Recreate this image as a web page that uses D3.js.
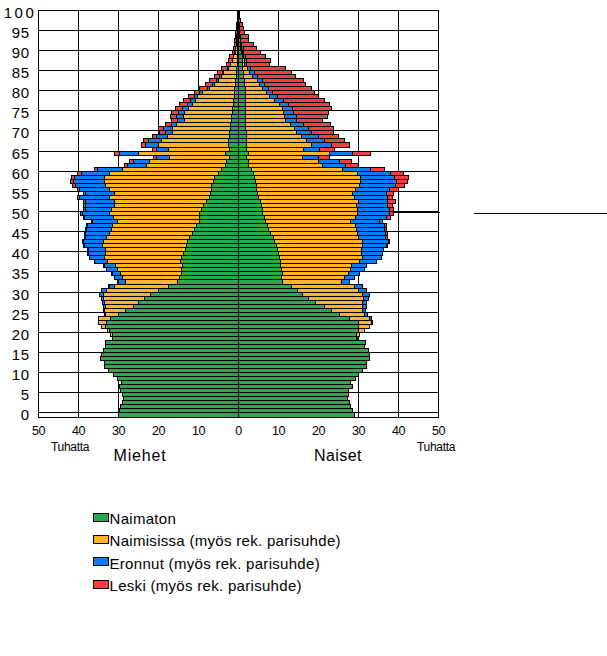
<!DOCTYPE html>
<html>
<head>
<meta charset="utf-8">
<script src="https://cdn.jsdelivr.net/npm/d3@7"></script>
<style>
  body { margin: 0; background: #fff; }
  svg { display: block; font-family: "Liberation Sans", Arial, sans-serif; }
</style>
</head>
<body>
<div id="chart"></div>
<script>
// age groups 0..100, values in thousands
var ages = d3.range(0, 101);

var menSingle = [30.0,29.6,29.4,29.0,28.75,28.8,29.4,29.6,29.2,30.2,
  31.2,32.5,33.3,33.5,34.4,34.2,33.7,33.1,33.1,31.3,
  31.4,32.1,33.1,33.0,32.0,29.8,28.2,26.2,25.0,23.5,
  21.9,19.9,17.5,15.2,14.7,14.2,14.2,14.0,14.4,14.2,
  13.7,13.2,12.9,12.7,12.2,11.4,11.0,10.4,9.6,9.7,
  9.6,9.2,8.6,7.9,7.1,6.9,6.7,6.6,6.2,5.8,
  5.0,4.2,3.2,2.9,2.2,3.1,2.2,2.5,2.4,2.2,
  2.1,1.9,1.8,1.7,1.6,1.5,1.3,1.2,1.1,1.0,
  0.8,0.8,0.7,0.6,0.4,0.3,0.3,0.2,0.2,0.15,
  0.1,0.1,0.1,0.05,0.05,0.05,0.03,0.02,0.02,0.01,0.01];
var menMarried = [0,0,0,0,0,0,0,0,0,0,
  0,0,0,0,0,0,0,0,0,0.1,
  0.4,0.6,1.1,2.0,3.0,3.4,5.1,6.9,8.3,10.1,
  11.8,13.0,13.3,13.0,14.3,15.2,16.0,16.7,18.3,19.3,
  19.5,19.9,20.9,21.0,20.7,20.7,20.7,21.0,20.6,21.5,
  22.6,22.5,22.4,23.1,25.0,24.1,25.4,26.5,27.1,27.5,
  27.2,24.8,19.7,19.2,15.0,21.9,15.3,17.5,16.8,15.5,
  14.2,14.5,13.6,11.8,12.0,11.8,11.0,10.3,9.6,9.2,
  8.1,6.3,5.1,4.4,3.8,3.3,2.2,1.6,1.2,1.0,
  0.65,0.5,0.35,0.3,0.2,0.15,0.1,0.08,0.05,0.03,0.03];
var menDivorced = [0,0,0,0,0,0,0,0,0,0,
  0,0,0,0,0,0,0,0,0,0,
  0,0,0,0,0,0.2,0.45,0.65,0.6,0.6,
  0.85,1.25,1.4,1.8,1.8,2.1,2.6,2.8,3.1,3.6,
  4.3,4.4,4.6,5.0,5.2,6.0,6.2,6.3,6.2,7.1,
  6.8,6.5,7.2,7.2,7.5,7.2,7.6,7.6,7.9,7.5,
  6.9,6.2,4.8,4.1,3.1,4.6,3.0,3.2,3.3,2.7,
  1.9,2.3,1.3,1.7,1.7,1.7,1.7,1.2,1.1,0.8,
  0.7,0.65,0.6,0.4,0.4,0.2,0.2,0.1,0.1,0.1,
  0.1,0.05,0.05,0.05,0.03,0.02,0.02,0.01,0.01,0.01,0.01];
var menWidowed = [0,0,0,0,0,0,0,0,0,0,
  0,0,0,0,0,0,0,0,0,0,
  0,0,0,0,0,0,0,0,0,0,
  0,0,0.1,0.05,0.05,0.05,0.1,0.1,0.1,0.1,
  0.1,0.15,0.2,0.2,0.2,0.2,0.25,0.25,0.3,0.3,
  0.5,0.5,0.5,0.5,0.6,0.5,0.5,0.65,0.65,0.9,
  1.05,0.6,0.75,0.85,0.85,1.2,1.0,1.0,1.1,1.1,
  1.55,1.25,1.4,1.5,1.5,1.7,1.7,1.9,1.95,1.5,
  1.4,2.0,1.8,1.85,1.4,1.25,1.5,1.0,1.0,0.85,
  0.65,0.6,0.5,0.4,0.35,0.3,0.25,0.17,0.12,0.08,0.1];

var womenSingle = [29.0,28.5,28.2,27.9,27.3,27.7,27.7,28.5,28.2,29.4,
  30.0,31.2,32.2,32.2,32.9,32.9,32.7,31.7,31.9,29.6,
  29.6,30.0,30.0,30.0,27.9,25.4,23.3,21.5,19.3,17.7,
  16.2,14.8,13.3,11.0,10.8,11.0,10.8,10.6,10.6,10.4,
  10.2,9.8,9.6,9.0,8.8,8.1,7.7,7.3,6.8,6.7,
  6.2,6.2,5.8,5.7,5.2,4.8,4.6,4.6,4.4,4.2,
  3.9,3.3,2.7,2.5,2.1,2.5,2.1,2.2,2.1,2.1,
  2.1,1.9,1.9,1.9,1.9,1.9,1.9,1.9,1.9,1.9,
  1.8,1.8,1.7,1.7,1.4,1.4,1.2,1.1,1.1,1.0,
  0.85,0.7,0.6,0.5,0.45,0.35,0.3,0.2,0.15,0.1,0.05];
var womenMarried = [0,0,0,0,0,0,0,0,0,0,
  0,0,0,0,0,0,0,0,0,0.25,
  0.8,1.7,2.75,3.3,5.0,6.2,7.9,9.6,11.7,13.7,
  15.0,15.2,15.7,14.8,15.7,16.7,17.3,17.8,19.8,20.7,
  20.7,21.0,21.4,22.0,21.2,21.7,21.8,22.0,21.2,22.7,
  23.7,23.7,23.9,24.3,23.8,23.7,24.8,25.8,26.2,26.5,
  25.9,22.7,18.5,17.5,13.9,20.4,14.2,16.1,15.0,13.7,
  12.5,12.3,11.3,10.0,9.6,9.5,9.3,8.5,7.2,6.0,
  5.2,4.4,3.6,3.1,2.3,1.5,1.2,0.6,0.4,0.4,
  0.25,0.2,0.1,0.1,0.08,0.05,0.03,0.02,0.01,0.01,0];
var womenDivorced = [0,0,0,0,0,0,0,0,0,0,
  0,0,0,0,0,0,0,0,0,0,
  0,0,0.2,0.25,0.4,0.65,0.65,1.0,1.0,1.3,
  1.7,2.0,2.0,2.1,2.5,2.7,3.5,3.6,4.3,4.7,
  5.2,5.6,6.1,6.5,6.9,7.1,7.1,7.2,7.3,7.7,
  7.9,7.9,7.7,7.4,8.3,8.6,8.5,8.9,9.1,8.5,
  8.2,7.2,5.7,5.4,4.0,5.8,4.0,5.0,4.6,4.2,
  3.7,3.5,3.1,2.8,3.1,2.5,2.5,2.3,2.2,1.9,
  1.6,1.5,1.4,1.3,1.1,1.1,0.8,0.5,0.6,0.5,
  0.35,0.4,0.2,0.1,0.1,0.05,0.05,0.03,0.02,0.01,0];
var womenWidowed = [0,0,0,0,0,0,0,0,0,0,
  0,0,0,0,0,0,0,0,0,0,
  0,0,0,0,0,0,0,0,0,0,
  0,0,0,0,0,0,0,0,0,0,
  0,0,0.25,0.25,0.4,0.4,0.4,0.7,0.8,1.0,
  1.1,1.0,1.2,1.9,1.4,1.7,2.3,2.2,2.7,3.3,
  3.3,3.4,3.1,2.9,2.9,4.4,3.7,4.6,5.0,5.2,
  5.6,6.2,6.7,6.5,7.7,8.6,9.6,10.2,10.2,10.2,
  10.6,10.7,10.2,10.2,9.5,9.3,8.7,5.6,6.0,5.0,
  4.2,3.3,2.9,1.9,1.9,1.25,1.05,0.75,0.5,0.3,0.25];

var statusLabels = ["Naimaton", "Naimisissa (myös rek. parisuhde)",
                    "Eronnut (myös rek. parisuhde)", "Leski (myös rek. parisuhde)"];
var statusColors = ["#2aa84e", "#ffb428", "#0a7bf2", "#f04040"];
var xTicks = [-50, -40, -30, -20, -10, 0, 10, 20, 30, 40, 50];
var ageTicks = d3.range(0, 101, 5);

var width = 607, height = 656;
var plot = {left: 38, right: 438, top: 10, bottom: 417};

var svg = d3.select("#chart").append("svg")
    .attr("width", width)
    .attr("height", height);

var x = d3.scaleLinear().domain([-50, 50]).range([plot.left, plot.right]);
// each age gets one band; band a spans y(a+1)..y(a)
var y = d3.scaleLinear().domain([0, 101]).range([plot.bottom, plot.top]);

var men   = [menSingle, menMarried, menDivorced, menWidowed];
var women = [womenSingle, womenMarried, womenDivorced, womenWidowed];

//stack the four statuses outward from the centre line
function segments(series, sign) {
  var out = [];
  ages.forEach(function(a) {
    var cum = 0;
    series.forEach(function(s, k) {
      var v = s[a];
      if (v > 0) out.push({age: a, k: k, x0: sign * cum, x1: sign * (cum + v)});
      cum += v;
    });
  });
  return out;
}

var grid = svg.append("g").attr("shape-rendering", "crispEdges");

grid.selectAll("line.v")
  .data(xTicks)
  .enter().append("line")
    .attr("x1", function(d) { return x(d); })
    .attr("x2", function(d) { return x(d); })
    .attr("y1", plot.top)
    .attr("y2", plot.bottom)
    .attr("stroke", "#000");

grid.selectAll("line.h")
  .data(ageTicks)
  .enter().append("line")
    .attr("x1", plot.left)
    .attr("x2", plot.right)
    .attr("y1", function(d) { return y(d + 1); })
    .attr("y2", function(d) { return y(d + 1); })
    .attr("stroke", "#000");

var bars = svg.append("g").attr("shape-rendering", "crispEdges");

bars.selectAll("rect")
  .data(segments(men, -1).concat(segments(women, 1)))
  .enter().append("rect")
    .attr("x", function(d) { return x(Math.min(d.x0, d.x1)); })
    .attr("width", function(d) { return Math.abs(x(d.x1) - x(d.x0)); })
    .attr("y", function(d) { return y(d.age + 1); })
    .attr("height", function(d) { return y(d.age) - y(d.age + 1); })
    .attr("fill", function(d) { return statusColors[d.k]; })
    .attr("stroke", "#000")
    .attr("stroke-width", 1);

// frame
svg.append("rect")
  .attr("x", plot.left)
  .attr("y", plot.top)
  .attr("width", plot.right - plot.left)
  .attr("height", plot.bottom - plot.top)
  .attr("fill", "none")
  .attr("stroke", "#000")
  .attr("shape-rendering", "crispEdges");

// stray leader line from the original
svg.append("line")
  .attr("x1", x(38.8)).attr("x2", x(50.5))
  .attr("y1", y(50.7)).attr("y2", y(50.7))
  .attr("stroke", "#000").attr("shape-rendering", "crispEdges");
svg.append("line")
  .attr("x1", 474).attr("x2", 607)
  .attr("y1", y(50.6)).attr("y2", y(50.6))
  .attr("stroke", "#000").attr("shape-rendering", "crispEdges");

// x axis
var xAxis = svg.append("g")
  .attr("transform", "translate(0," + plot.bottom + ")")
  .call(d3.axisBottom(x).tickValues(xTicks).tickSize(0).tickPadding(9)
          .tickFormat(function(d) { return Math.abs(d); }));
xAxis.select(".domain").remove();
xAxis.selectAll("text")
  .attr("font-family", "Liberation Sans, Arial, sans-serif")
  .attr("font-size", "12.5px")
  .attr("letter-spacing", "-0.5px")
  .attr("fill", "#000");

// age labels
svg.append("g").selectAll("text")
  .data(ageTicks)
  .enter().append("text")
    .attr("x", function(d) { return d >= 100 ? 20 : 29.5; })
    .attr("y", function(d) { return y(d + 0.5) + 5.5; })
    .attr("text-anchor", function(d) { return d >= 100 ? "middle" : "end"; })
    .attr("font-size", "15px")
    .attr("letter-spacing", function(d) { return d >= 100 ? "2.5px" : "0.5px"; })
    .text(function(d) { return d; });

svg.append("text").attr("x", 70).attr("y", 450.5)
  .attr("text-anchor", "middle").attr("font-size", "12px")
  .attr("letter-spacing", "-0.3px").text("Tuhatta");
svg.append("text").attr("x", 436).attr("y", 450.5)
  .attr("text-anchor", "middle").attr("font-size", "12px")
  .attr("letter-spacing", "-0.3px").text("Tuhatta");

svg.append("text").attr("x", 140).attr("y", 461)
  .attr("text-anchor", "middle").attr("font-size", "16px")
  .attr("letter-spacing", "0.8px").text("Miehet");
svg.append("text").attr("x", 338).attr("y", 461)
  .attr("text-anchor", "middle").attr("font-size", "16px")
  .attr("letter-spacing", "0.4px").text("Naiset");

// legend
var legend = svg.append("g")
  .attr("transform", "translate(93,524)");

var item = legend.selectAll("g")
  .data(statusLabels)
  .enter().append("g")
    .attr("transform", function(d, i) { return "translate(0," + (i * 22.4) + ")"; });

item.append("rect")
  .attr("x", 0).attr("y", -11)
  .attr("width", 15).attr("height", 8)
  .attr("fill", function(d, i) { return statusColors[i]; })
  .attr("stroke", "#000")
  .attr("shape-rendering", "crispEdges");

item.append("text")
  .attr("x", 16.5).attr("y", 0)
  .attr("font-size", "15px")
  .attr("letter-spacing", "0.3px")
  .text(function(d) { return d; });
</script>
</body>
</html>
